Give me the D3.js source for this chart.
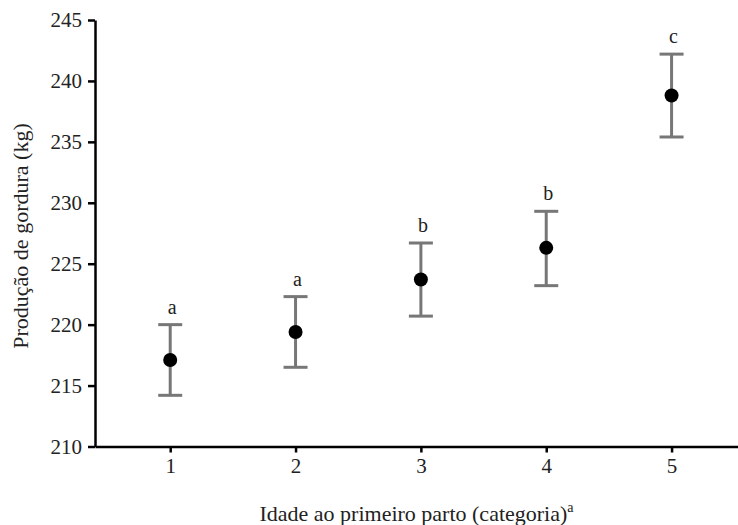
<!DOCTYPE html>
<html>
<head>
  <meta charset="utf-8">
  <title>Produção de gordura</title>
  <style>
  body { margin: 0; background: #fff; }
  svg text { font-family: "Times New Roman", "Liberation Serif", "DejaVu Serif", serif; fill: #222; }
  .axis path, .axis line { stroke: #000; stroke-width: 2.5; }
  .err { stroke: #777; stroke-width: 3; }
  </style>
</head>
<body>
  <div id="chart"></div>
  <script src="https://d3js.org/d3.v7.min.js"></script>
  <script type="text/javascript">
    var categories = [1, 2, 3, 4, 5];
    var means = [217.1, 219.4, 223.7, 226.3, 238.8];
    var lower = [214.2, 216.5, 220.7, 223.2, 235.4];
    var upper = [220.0, 222.3, 226.7, 229.3, 242.2];
    var letters = ["a", "a", "b", "b", "c"];
    var yTicks = [210, 215, 220, 225, 230, 235, 240, 245];

    var width = 738;
    var height = 525;
    var serif = "'Times New Roman', 'Liberation Serif', serif";

    var svg = d3.select("#chart").append("svg")
        .attr("width", width)
        .attr("height", height);

    var x = d3.scaleLinear()
        .domain([0.4, 5.53])
        .range([95, 738]);

    var y = d3.scaleLinear()
        .domain([210, 245])
        .range([446.5, 20]);

    var data = categories.map(function(c, i) {
      return {cat: c, mean: means[i], lo: lower[i], hi: upper[i], letter: letters[i]};
    });

    // axes
    var gy = svg.append("g")
        .attr("class", "axis")
        .attr("transform", "translate(95,0)")
        .call(d3.axisLeft(y).tickValues(yTicks).tickFormat(d3.format("d"))
          .tickSize(7).tickSizeOuter(0).tickPadding(6));

    var gx = svg.append("g")
        .attr("class", "axis")
        .attr("transform", "translate(0,446.5)")
        .call(d3.axisBottom(x).tickValues(categories).tickFormat(d3.format("d"))
          .tickSize(6).tickSizeOuter(0).tickPadding(6));

    svg.selectAll(".axis").attr("font-family", serif).attr("font-size", 21);
    svg.selectAll(".axis .tick line").attr("stroke-width", 2);
    svg.selectAll(".axis text").attr("fill", "#222");

    // error bars
    var g = svg.append("g");
    var cap = 12;

    g.selectAll("line.v").data(data).enter().append("line")
        .attr("class", "err")
        .attr("x1", function(d) { return x(d.cat); })
        .attr("x2", function(d) { return x(d.cat); })
        .attr("y1", function(d) { return y(d.lo); })
        .attr("y2", function(d) { return y(d.hi); });

    g.selectAll("line.top").data(data).enter().append("line")
        .attr("class", "err")
        .attr("x1", function(d) { return x(d.cat) - cap; })
        .attr("x2", function(d) { return x(d.cat) + cap; })
        .attr("y1", function(d) { return y(d.hi); })
        .attr("y2", function(d) { return y(d.hi); });

    g.selectAll("line.bot").data(data).enter().append("line")
        .attr("class", "err")
        .attr("x1", function(d) { return x(d.cat) - cap; })
        .attr("x2", function(d) { return x(d.cat) + cap; })
        .attr("y1", function(d) { return y(d.lo); })
        .attr("y2", function(d) { return y(d.lo); });

    g.selectAll("circle").data(data).enter().append("circle")
        .attr("cx", function(d) { return x(d.cat); })
        .attr("cy", function(d) { return y(d.mean); })
        .attr("r", 7)
        .attr("fill", "#000");

    g.selectAll("text.letter").data(data).enter().append("text")
        .attr("class", "letter")
        .attr("x", function(d) { return x(d.cat) + 2; })
        .attr("y", function(d) { return y(d.hi) - 11; })
        .attr("text-anchor", "middle")
        .attr("font-family", serif)
        .attr("font-size", 20)
        .text(function(d) { return d.letter; });

    // axis titles
    svg.append("text")
        .attr("transform", "translate(28,236) rotate(-90)")
        .attr("text-anchor", "middle")
        .attr("font-family", serif)
        .attr("font-size", 22)
        .text("Produção de gordura (kg)");

    var xt = svg.append("text")
        .attr("x", (95 + 738) / 2)
        .attr("y", 521)
        .attr("text-anchor", "middle")
        .attr("font-family", serif)
        .attr("font-size", 22)
        .text("Idade ao primeiro parto (categoria)");
    xt.append("tspan")
        .attr("font-size", 14)
        .attr("dy", -9)
        .text("a");
  </script>
</body>
</html>
